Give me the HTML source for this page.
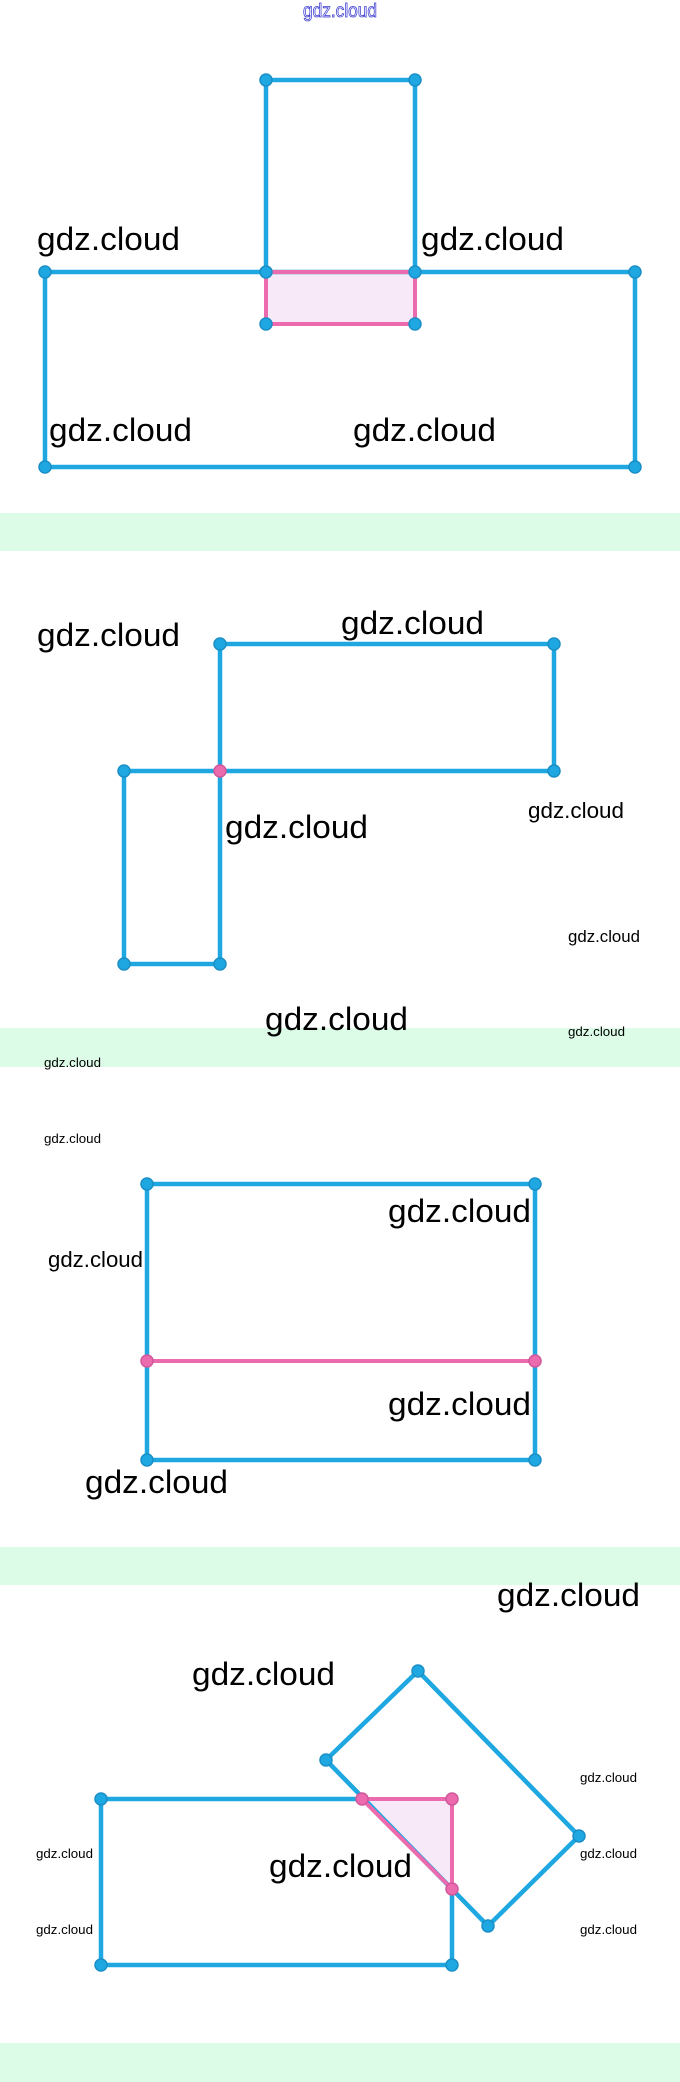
<!DOCTYPE html>
<html><head><meta charset="utf-8"><style>
html,body{margin:0;padding:0;background:#fff;}
svg{display:block;}
text{font-family:"Liberation Sans",sans-serif;fill:#000;}
</style></head><body>
<svg width="680" height="2082" viewBox="0 0 680 2082" xmlns="http://www.w3.org/2000/svg">
<defs>
<style>
.b{stroke:#1ea7e1;stroke-width:4.5;fill:none;stroke-linejoin:round;}
.p{stroke:#ec6aae;stroke-width:4;fill:#f8e9f8;stroke-linejoin:round;}
.pl{stroke:#ec6aae;stroke-width:4;fill:none;}
.d{fill:#1ea7e1;stroke:#1a8fc6;stroke-width:1.5;}
.dp{fill:#ec6aae;stroke:#d0589a;stroke-width:1.5;}
.L{font-size:32px;}
.M{font-size:22px;}
.S{font-size:17px;}
.T{font-size:13px;}
</style>
</defs>
<!-- bands -->
<rect x="0" y="513" width="680" height="38" fill="#dcfce8"/>
<rect x="0" y="1028" width="680" height="39" fill="#dcfce8"/>
<rect x="0" y="1547" width="680" height="38" fill="#dcfce8"/>
<rect x="0" y="2043" width="680" height="39" fill="#dcfce8"/>

<text x="303" y="17" font-size="19" textLength="74" lengthAdjust="spacingAndGlyphs" style="fill:#fff;stroke:#3a3ad0;stroke-width:0.8">gdz.cloud</text>

<!-- Section 1 -->
<rect x="266" y="272" width="149" height="52" class="p"/>
<polyline class="b" points="266,272 266,80 415,80 415,272"/>
<rect x="45" y="272" width="590" height="195" class="b"/>
<line x1="266" y1="272" x2="415" y2="272" class="pl"/>
<g class="d">
<circle cx="266" cy="80" r="6"/><circle cx="415" cy="80" r="6"/>
<circle cx="45" cy="272" r="6"/><circle cx="266" cy="272" r="6"/><circle cx="415" cy="272" r="6"/><circle cx="635" cy="272" r="6"/>
<circle cx="266" cy="324" r="6"/><circle cx="415" cy="324" r="6"/>
<circle cx="45" cy="467" r="6"/><circle cx="635" cy="467" r="6"/>
</g>
<text class="L" x="37" y="250" textLength="143" lengthAdjust="spacingAndGlyphs">gdz.cloud</text>
<text class="L" x="421" y="250" textLength="143" lengthAdjust="spacingAndGlyphs">gdz.cloud</text>
<text class="L" x="49" y="441" textLength="143" lengthAdjust="spacingAndGlyphs">gdz.cloud</text>
<text class="L" x="353" y="441" textLength="143" lengthAdjust="spacingAndGlyphs">gdz.cloud</text>

<!-- Section 2 -->
<rect x="220" y="644" width="334" height="127" class="b"/>
<rect x="124" y="771" width="96" height="193" class="b"/>
<g class="d">
<circle cx="220" cy="644" r="6"/><circle cx="554" cy="644" r="6"/>
<circle cx="124" cy="771" r="6"/><circle cx="554" cy="771" r="6"/>
<circle cx="124" cy="964" r="6"/><circle cx="220" cy="964" r="6"/>
</g>
<circle cx="220" cy="771" r="6" class="dp"/>
<text class="L" x="37" y="646" textLength="143" lengthAdjust="spacingAndGlyphs">gdz.cloud</text>
<text class="L" x="341" y="634" textLength="143" lengthAdjust="spacingAndGlyphs">gdz.cloud</text>
<text class="L" x="225" y="838" textLength="143" lengthAdjust="spacingAndGlyphs">gdz.cloud</text>
<text class="M" x="528" y="818" textLength="96" lengthAdjust="spacingAndGlyphs">gdz.cloud</text>
<text class="S" x="568" y="942" textLength="72" lengthAdjust="spacingAndGlyphs">gdz.cloud</text>
<text class="L" x="265" y="1030" textLength="143" lengthAdjust="spacingAndGlyphs">gdz.cloud</text>
<text class="T" x="568" y="1036" textLength="57" lengthAdjust="spacingAndGlyphs">gdz.cloud</text>

<!-- Section 3 -->
<text class="T" x="44" y="1067" textLength="57" lengthAdjust="spacingAndGlyphs">gdz.cloud</text>
<text class="T" x="44" y="1143" textLength="57" lengthAdjust="spacingAndGlyphs">gdz.cloud</text>
<rect x="147" y="1184" width="388" height="276" class="b"/>
<line x1="147" y1="1361" x2="535" y2="1361" class="pl"/>
<g class="d">
<circle cx="147" cy="1184" r="6"/><circle cx="535" cy="1184" r="6"/>
<circle cx="147" cy="1460" r="6"/><circle cx="535" cy="1460" r="6"/>
</g>
<circle cx="147" cy="1361" r="6" class="dp"/><circle cx="535" cy="1361" r="6" class="dp"/>
<text class="L" x="388" y="1222" textLength="143" lengthAdjust="spacingAndGlyphs">gdz.cloud</text>
<text class="M" x="48" y="1267" textLength="95" lengthAdjust="spacingAndGlyphs">gdz.cloud</text>
<text class="L" x="388" y="1415" textLength="143" lengthAdjust="spacingAndGlyphs">gdz.cloud</text>
<text class="L" x="85" y="1493" textLength="143" lengthAdjust="spacingAndGlyphs">gdz.cloud</text>

<!-- Section 4 -->
<text class="L" x="497" y="1606" textLength="143" lengthAdjust="spacingAndGlyphs">gdz.cloud</text>
<text class="L" x="192" y="1685" textLength="143" lengthAdjust="spacingAndGlyphs">gdz.cloud</text>
<polygon class="p" points="362,1799 452,1799 452,1889"/>
<polygon class="b" points="418,1671 579,1836 488,1926 326,1760"/>
<polyline class="b" points="362,1799 101,1799 101,1965 452,1965 452,1889"/>
<polygon points="362,1799 452,1799 452,1889" style="fill:none;stroke:#ec6aae;stroke-width:4;stroke-linejoin:round"/>
<g class="d">
<circle cx="418" cy="1671" r="6"/><circle cx="326" cy="1760" r="6"/>
<circle cx="579" cy="1836" r="6"/><circle cx="488" cy="1926" r="6"/>
<circle cx="101" cy="1799" r="6"/><circle cx="101" cy="1965" r="6"/><circle cx="452" cy="1965" r="6"/>
</g>
<circle cx="362" cy="1799" r="6" class="dp"/><circle cx="452" cy="1799" r="6" class="dp"/><circle cx="452" cy="1889" r="6" class="dp"/>
<text class="T" x="580" y="1782" textLength="57" lengthAdjust="spacingAndGlyphs">gdz.cloud</text>
<text class="T" x="580" y="1858" textLength="57" lengthAdjust="spacingAndGlyphs">gdz.cloud</text>
<text class="T" x="580" y="1934" textLength="57" lengthAdjust="spacingAndGlyphs">gdz.cloud</text>
<text class="T" x="36" y="1858" textLength="57" lengthAdjust="spacingAndGlyphs">gdz.cloud</text>
<text class="T" x="36" y="1934" textLength="57" lengthAdjust="spacingAndGlyphs">gdz.cloud</text>
<text class="L" x="269" y="1877" textLength="143" lengthAdjust="spacingAndGlyphs">gdz.cloud</text>
</svg>
</body></html>
